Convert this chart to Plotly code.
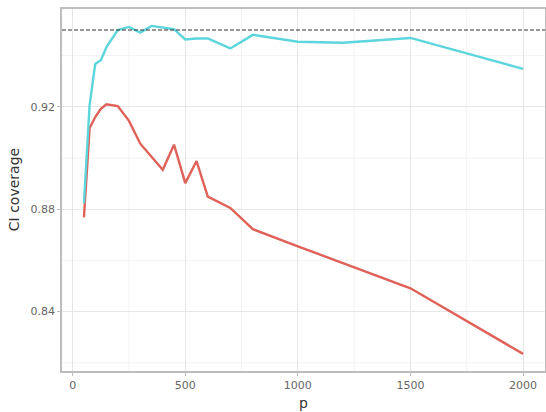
import plotly.graph_objects as go

# Data
p_cyan = [50, 75, 100, 125, 150, 200, 250, 300, 350, 400, 450, 500, 550, 600, 700, 800, 1000, 1200, 1500, 2000]
cov_cyan = [0.8823, 0.9205, 0.9367, 0.9382, 0.9433, 0.9500, 0.9512, 0.9490, 0.9516, 0.9510, 0.9503, 0.9463,
            0.9467, 0.9467, 0.9428, 0.9481, 0.9454, 0.9450, 0.9469, 0.9348]

p_red = [50, 75, 100, 125, 150, 200, 250, 300, 350, 400, 450, 500, 550, 600, 700, 800, 1000, 1200, 1500, 2000]
cov_red = [0.8768, 0.9116, 0.9160, 0.9192, 0.9210, 0.9203, 0.9145, 0.9056, 0.9005, 0.8954, 0.9052, 0.8902,
           0.8988, 0.8849, 0.8805, 0.8722, 0.8655, 0.8589, 0.8491, 0.8235]

nominal = 0.95
x_major = [0, 500, 1000, 1500, 2000]
x_minor = [250, 750, 1250, 1750]
y_major = [0.84, 0.88, 0.92]
y_minor = [0.82, 0.86, 0.90, 0.94]

X_RANGE = [-47.5, 2097.5]
Y_RANGE = [0.8168, 0.9582]

fig = go.Figure()

# minor gridlines
for xv in x_minor:
    fig.add_shape(type="line", xref="x", yref="paper", x0=xv, x1=xv, y0=0, y1=1,
                  line=dict(color="#f2f2f2", width=1), layer="below")
for yv in y_minor:
    fig.add_shape(type="line", xref="paper", yref="y", x0=0, x1=1, y0=yv, y1=yv,
                  line=dict(color="#f2f2f2", width=1), layer="below")

fig.add_trace(go.Scatter(x=p_red, y=cov_red, mode="lines",
                         line=dict(color="#DF6158", width=2.4), showlegend=False))
fig.add_trace(go.Scatter(x=p_cyan, y=cov_cyan, mode="lines",
                         line=dict(color="#5DD5DD", width=2.4), showlegend=False))

fig.add_hline(y=nominal, line=dict(color="#333333", width=1.2, dash="4px,2px"))

axis_common = dict(showline=True, linecolor="#bdbdbd", linewidth=1.5, mirror=True,
                   showgrid=True, gridcolor="#e6e6e6", gridwidth=1, zeroline=False,
                   ticks="outside", ticklen=3, tickcolor="#bdbdbd", automargin=False,
                   tickfont=dict(family="DejaVu Sans", size=11, color="#666666"))

fig.update_xaxes(range=X_RANGE, tickvals=x_major, ticktext=[str(v) for v in x_major], **axis_common)
fig.update_yaxes(range=Y_RANGE, tickvals=y_major, ticktext=[f"{v:.2f}" for v in y_major], **axis_common)

fig.add_annotation(text="p", xref="paper", yref="paper", x=0.5, y=-0.062, yanchor="top",
                   showarrow=False, font=dict(family="DejaVu Sans", size=14, color="#333333"))
fig.add_annotation(text="CI coverage", xref="paper", yref="paper", x=-0.099, y=0.5,
                   xanchor="center", yanchor="middle", textangle=-90,
                   showarrow=False, font=dict(family="DejaVu Sans", size=14, color="#333333"))

fig.update_layout(width=546, height=412, margin=dict(l=62, r=1, t=9, b=41, autoexpand=False),
                  plot_bgcolor="white", paper_bgcolor="white")

fig.write_html("out.html", config={"displayModeBar": False},
               post_script="document.body.style.margin='0';document.body.style.overflow='hidden';")
